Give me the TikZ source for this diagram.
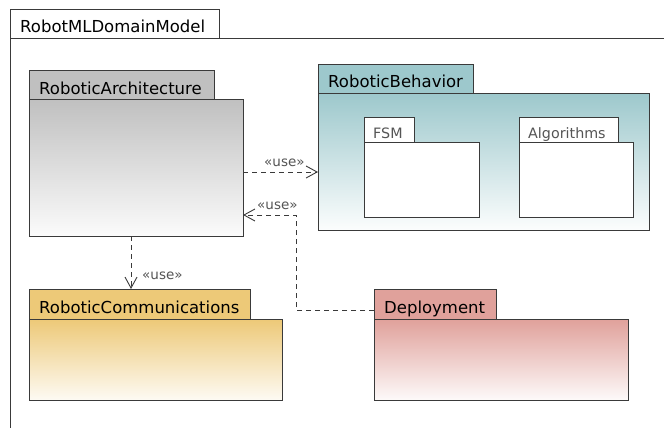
\documentclass[tikz,border=0pt]{standalone}
\usepackage{fontspec}
\setmainfont{DejaVu Sans}
\usetikzlibrary{arrows.meta}
\definecolor{linec}{HTML}{3A3A3A}
\definecolor{grayc}{HTML}{C0C0C0}
\definecolor{tealc}{HTML}{9DC8CC}
\definecolor{yellc}{HTML}{EDC978}
\definecolor{pinkc}{HTML}{E0A19B}
\definecolor{txtgray}{HTML}{555555}
\begin{document}
\begin{tikzpicture}[x=1pt,y=-1pt,
  box/.style={draw=linec,line width=0.9pt,anchor=north west,inner sep=0pt},
  lbl/.style={anchor=base west,inner sep=0pt,font=\fontsize{16.5}{19}\selectfont},
  sublbl/.style={anchor=base west,inner sep=0pt,text=txtgray,font=\fontsize{14.3}{16}\selectfont},
  uselbl/.style={anchor=base west,inner sep=0pt,text=txtgray,font=\fontsize{13.5}{15}\selectfont},
  dep/.style={draw=linec,line width=0.9pt,dash pattern=on 5pt off 4pt,-{Straight Barb[length=11pt,width=12pt,line width=0.9pt]}}]
\useasboundingbox (0,0) rectangle (664,428);
\fill[white] (0,0) rectangle (664,428);
% outer frame
\node[box,minimum width=209pt,minimum height=29pt,fill=white] (ftab) at (10,9) {};
\draw[linec,line width=0.9pt] (10,428) -- (10,38) -- (664,38);
\node[lbl] (ftitle) at (20,33) {RobotMLDomainModel};
% RoboticArchitecture
\node[box,minimum width=185pt,minimum height=29pt,fill=grayc] (ratab) at (29,70) {};
\node[box,minimum width=214pt,minimum height=137pt,top color=grayc,bottom color=white!97!gray] (ra) at (29,99) {};
\node[lbl] (ralbl) at (39,94) {RoboticArchitecture};
% RoboticBehavior
\node[box,minimum width=155pt,minimum height=29pt,fill=tealc] (rbtab) at (318,64) {};
\node[box,minimum width=331pt,minimum height=137pt,top color=tealc,bottom color=white!97!tealc] (rb) at (318,93) {};
\node[lbl] (rblbl) at (328,88) {RoboticBehavior};
% FSM
\node[box,minimum width=50pt,minimum height=25pt,fill=white] (fsmtab) at (364,117) {};
\node[box,minimum width=115pt,minimum height=75pt,fill=white] (fsm) at (364,142) {};
\node[sublbl] (fsmlbl) at (373,138) {FSM};
% Algorithms
\node[box,minimum width=99pt,minimum height=25pt,fill=white] (algtab) at (519,117) {};
\node[box,minimum width=114pt,minimum height=75pt,fill=white] (alg) at (519,142) {};
\node[sublbl] (alglbl) at (528,138) {Algorithms};
% RoboticCommunications
\node[box,minimum width=221pt,minimum height=30pt,fill=yellc] (rctab) at (29,289) {};
\node[box,minimum width=253pt,minimum height=81pt,top color=yellc,bottom color=yellc!8!white] (rc) at (29,319) {};
\node[lbl] (rclbl) at (39,313) {RoboticCommunications};
% Deployment
\node[box,minimum width=122pt,minimum height=30pt,fill=pinkc] (dptab) at (374,289) {};
\node[box,minimum width=254pt,minimum height=81pt,top color=pinkc,bottom color=pinkc!5!white] (dp) at (374,319) {};
\node[lbl] (dplbl) at (384,313) {Deployment};
% connectors
\coordinate (c1s) at (243,172);
\coordinate (c1e) at (318,172);
\draw[dep] (c1s) -- (c1e);
\node[uselbl] (u1) at (264,166) {«use»};
\coordinate (c2s) at (374,310);
\coordinate (c2e) at (243,215);
\draw[dep] (c2s) -- (296,310) -- (296,215) -- (c2e);
\node[uselbl] (u2) at (257,209) {«use»};
\coordinate (c3s) at (131,236);
\coordinate (c3e) at (131,289);
\draw[dep] (c3s) -- (c3e);
\node[uselbl] (u3) at (142,279) {«use»};
\end{tikzpicture}
\end{document}
